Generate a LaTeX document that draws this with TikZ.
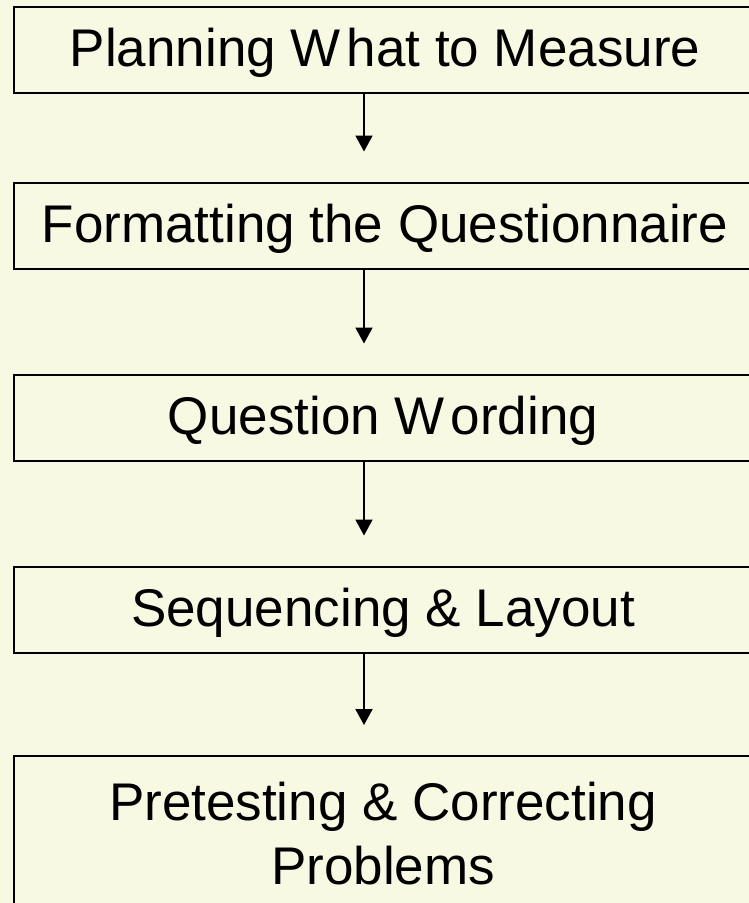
\documentclass[tikz,border=0pt]{standalone}
\usepackage{fontspec}
\setmainfont{Liberation Sans}
\usetikzlibrary{arrows.meta}
\definecolor{bgyellow}{RGB}{247,249,227}
\tikzset{
  stagebox/.style={draw=black, line width=2pt, rectangle, minimum width=738pt,
    minimum height=86pt, inner sep=0pt, text height=38pt, text depth=4pt,
    font=\fontsize{53pt}{64pt}\selectfont, align=center},
  flowarrow/.style={draw=black, line width=2pt,
    -{Triangle[width=17pt,length=16pt]}, shorten >=30pt},
}
\begin{document}
\begin{tikzpicture}[x=1pt,y=-1pt]
\useasboundingbox (0,0) rectangle (749,903);
\fill[bgyellow] (0,0) rectangle (749,903);
\clip (0,0) rectangle (749,903);
\node[stagebox] (b1) at (383,49.5) {\kern4pt Planning W\kern6pt hat to Measure};
\node[stagebox] (b2) at (383,225.5) {\kern4pt Formatting the Questionnaire};
\node[stagebox] (b3) at (383,417.5) {Question W\kern6pt ording};
\node[stagebox] (b4) at (383,609.5) {Sequencing \& Layout};
\node[stagebox, minimum height=160pt, text height=102pt, text depth=6pt] (b5) at (383,836) {Pretesting \& Correcting\\Problems};
\draw[flowarrow] ([xshift=-19pt]b1.south) -- ([xshift=-19pt]b2.north);
\draw[flowarrow] ([xshift=-19pt]b2.south) -- ([xshift=-19pt]b3.north);
\draw[flowarrow] ([xshift=-19pt]b3.south) -- ([xshift=-19pt]b4.north);
\draw[flowarrow] ([xshift=-19pt]b4.south) -- ([xshift=-19pt]b5.north);
\end{tikzpicture}
\end{document}
